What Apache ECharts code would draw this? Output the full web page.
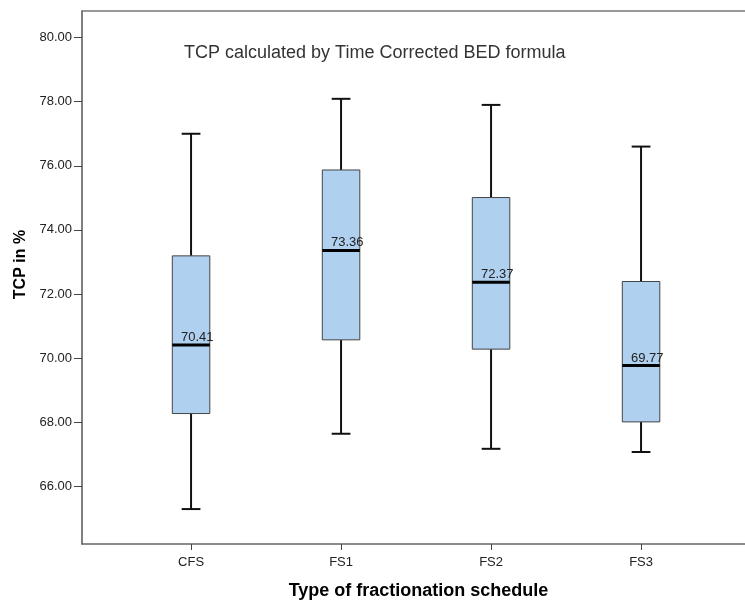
<!DOCTYPE html>
<html>
<head>
<meta charset="utf-8">
<script src="https://cdn.jsdelivr.net/npm/echarts@6/dist/echarts.min.js"></script>
<style>html,body{margin:0;padding:0;background:#fff;}#c{width:745px;height:600px;}</style>
</head>
<body>
<div id="c"></div>
<script>
const categories = ['CFS', 'FS1', 'FS2', 'FS3'];
const mins    = [65.29, 67.64, 67.17, 67.07];
const q1s     = [68.27, 70.57, 70.28, 68.01];
const medians = [70.41, 73.36, 72.37, 69.77];
const q3s     = [73.19, 75.87, 75.01, 72.39];
const maxs    = [77.00, 78.09, 77.90, 76.60];
const yTicks  = [66, 68, 70, 72, 74, 76, 78, 80];
const catIndex = [0, 1, 2, 3];

const data = categories.map((c, i) => [i, mins[i], q1s[i], medians[i], q3s[i], maxs[i]]);

const FONT = 'Liberation Sans, Arial, sans-serif';
const chart = echarts.init(document.getElementById('c'), null, {renderer: 'canvas'});

function renderItem(params, api) {
  const x = api.value(0);
  const pMin = api.coord([x, api.value(1)]);
  const pQ1 = api.coord([x, api.value(2)]);
  const pMed = api.coord([x, api.value(3)]);
  const pQ3 = api.coord([x, api.value(4)]);
  const pMax = api.coord([x, api.value(5)]);
  const cx = pMed[0];
  const bw = api.size([1, 0])[0] * 0.25;
  const half = bw / 2;
  const capHalf = bw / 4;
  const wStyle = {stroke: '#111', lineWidth: 2};
  return {
    type: 'group',
    children: [
      {type: 'line', shape: {x1: cx, y1: pQ3[1], x2: cx, y2: pMax[1]}, style: wStyle},
      {type: 'line', shape: {x1: cx, y1: pQ1[1], x2: cx, y2: pMin[1]}, style: wStyle},
      {type: 'line', shape: {x1: cx - capHalf, y1: pMax[1], x2: cx + capHalf, y2: pMax[1]}, style: wStyle},
      {type: 'line', shape: {x1: cx - capHalf, y1: pMin[1], x2: cx + capHalf, y2: pMin[1]}, style: wStyle},
      {type: 'rect', shape: {x: cx - half, y: pQ3[1], width: bw, height: pQ1[1] - pQ3[1]},
        style: {fill: '#afd0ee', stroke: '#444', lineWidth: 1}},
      {type: 'line', shape: {x1: cx - half, y1: pMed[1], x2: cx + half, y2: pMed[1]},
        style: {stroke: '#000', lineWidth: 3}},
      {type: 'text', x: cx - 10, y: pMed[1] - 1,
        style: {text: api.value(3).toFixed(2), fill: '#222', font: '13px ' + FONT,
          textAlign: 'left', textVerticalAlign: 'bottom'}}
    ]
  };
}

const xMin = -0.727;
const xMax = 3.693;

chart.setOption({
  animation: false,
  backgroundColor: '#fff',
  title: {
    text: 'TCP calculated by Time Corrected BED formula',
    left: 184, top: 44, padding: 0,
    textStyle: {fontFamily: FONT, fontSize: 18, fontWeight: 'normal', color: '#333'}
  },
  grid: {
    left: 82, top: 11, right: 0, bottom: 56,
    show: false,
    outerBoundsMode: 'none',
    containLabel: false
  },
  xAxis: [{
    type: 'value',
    min: xMin, max: xMax,
    splitLine: {show: false},
    axisLine: {show: true, onZero: false, lineStyle: {color: '#666', width: 1.5}},
    axisTick: {show: true, length: 6, inside: false, customValues: catIndex, lineStyle: {color: '#444'}},
    axisLabel: {customValues: catIndex, formatter: v => categories[Math.round(v)] || '',
      fontFamily: FONT, fontSize: 13, color: '#222', margin: 12},
    name: 'Type of fractionation schedule',
    nameLocation: 'middle', nameGap: 38,
    nameTextStyle: {fontFamily: FONT, fontSize: 18, fontWeight: 'bold', color: '#000', padding: [0, 0, 0, 10]}
  }, {
    type: 'value',
    position: 'top',
    min: xMin, max: xMax,
    splitLine: {show: false},
    axisLine: {show: true, onZero: false, lineStyle: {color: '#777', width: 1.5}},
    axisTick: {show: false},
    axisLabel: {show: false}
  }],
  yAxis: {
    type: 'value',
    min: 64.2, max: 80.83,
    splitLine: {show: false},
    axisLine: {show: true, onZero: false, lineStyle: {color: '#555', width: 1.5}},
    axisTick: {show: true, length: 8, customValues: yTicks, lineStyle: {color: '#444'}},
    axisLabel: {customValues: yTicks, formatter: v => Number(v).toFixed(2),
      fontFamily: FONT, fontSize: 13, color: '#222', margin: 10},
    name: 'TCP in %',
    nameLocation: 'middle', nameGap: 50,
    nameTextStyle: {fontFamily: FONT, fontSize: 16, fontWeight: 'bold', color: '#000', padding: [0, 0, 0, 26]}
  },
  series: [{
    type: 'custom',
    renderItem: renderItem,
    encode: {x: 0, y: [1, 2, 3, 4, 5]},
    data: data,
    clip: false
  }]
});
</script>
</body>
</html>
